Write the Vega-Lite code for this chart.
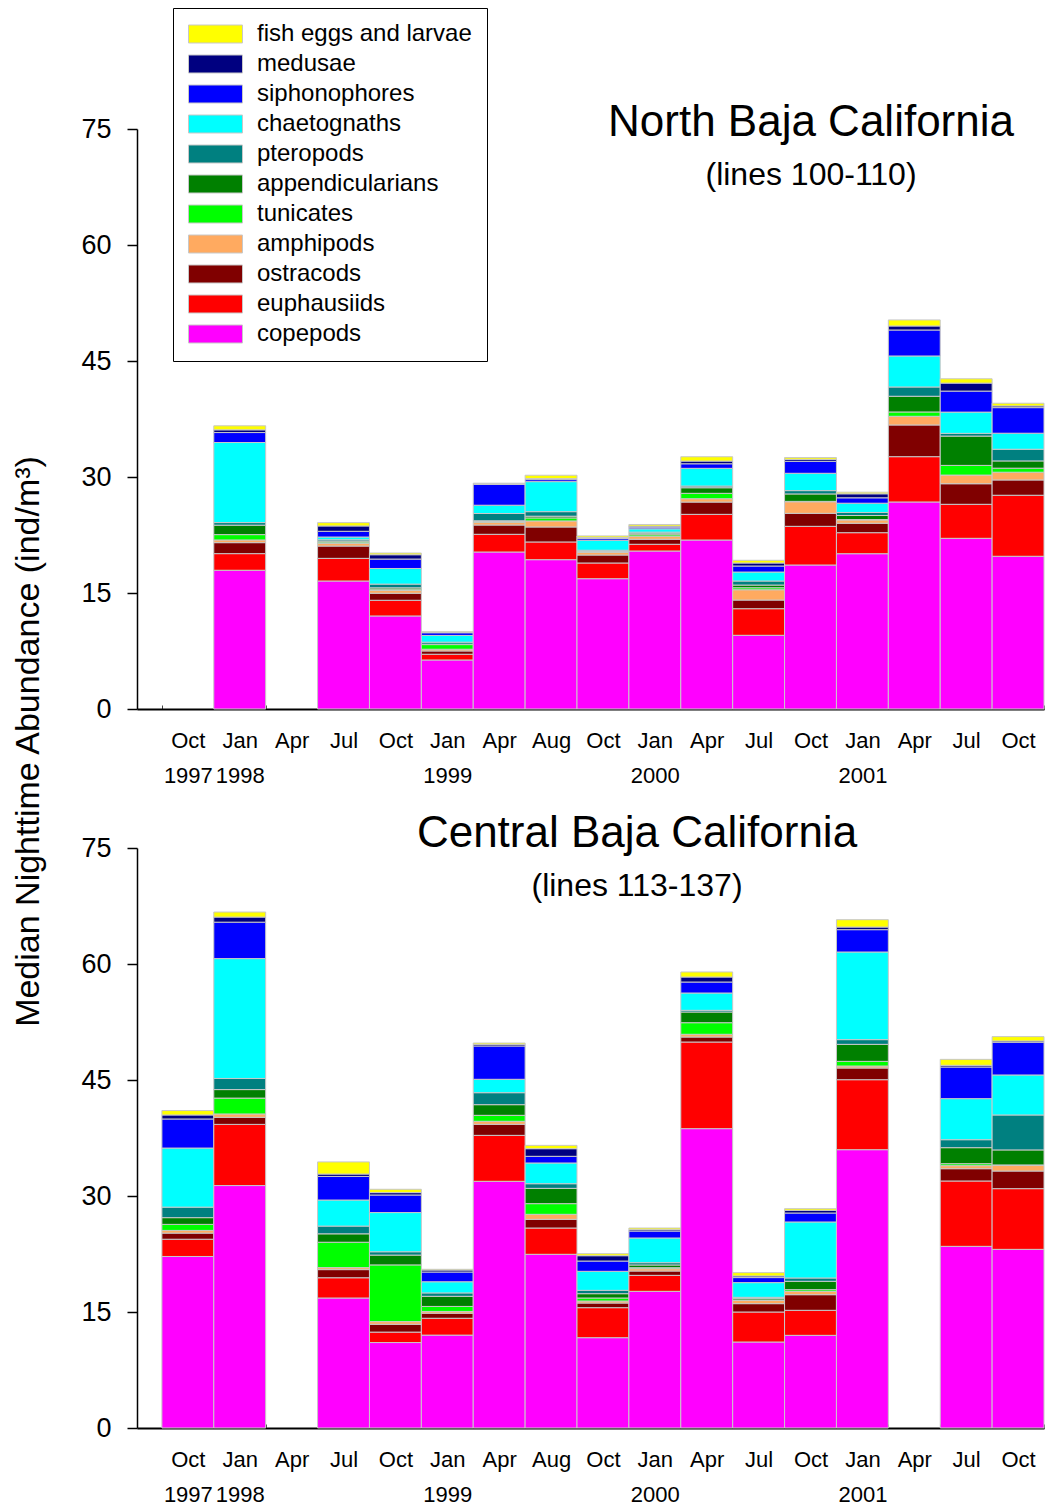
{
  "$schema": "https://vega.github.io/schema/vega-lite/v6.json",
  "background": "white",
  "padding": {"left": 11, "top": 7, "right": 1, "bottom": 0},
  "config": {
    "view": {"stroke": null},
    "font": "Liberation Sans",
    "axis": {"domainColor": "black", "tickColor": "black", "labelColor": "black", "titleColor": "black", "grid": false}
  },
  "datasets": {
    "taxa": [
      {"taxon": "copepods", "rank": 0},
      {"taxon": "euphausiids", "rank": 1},
      {"taxon": "ostracods", "rank": 2},
      {"taxon": "amphipods", "rank": 3},
      {"taxon": "tunicates", "rank": 4},
      {"taxon": "appendicularians", "rank": 5},
      {"taxon": "pteropods", "rank": 6},
      {"taxon": "chaetognaths", "rank": 7},
      {"taxon": "siphonophores", "rank": 8},
      {"taxon": "medusae", "rank": 9},
      {"taxon": "fish eggs and larvae", "rank": 10}
    ],
    "north": [
      {"date": "1998-01", "copepods": 17.94, "euphausiids": 2.15, "ostracods": 1.42, "amphipods": 0.35, "tunicates": 0.69, "appendicularians": 1.22, "pteropods": 0.34, "chaetognaths": 10.35, "siphonophores": 1.29, "medusae": 0.35, "fish eggs and larvae": 0.52},
      {"date": "1998-07", "copepods": 16.55, "euphausiids": 2.93, "ostracods": 1.59, "amphipods": 0.35, "tunicates": 0.17, "appendicularians": 0.13, "pteropods": 0.17, "chaetognaths": 0.35, "siphonophores": 0.74, "medusae": 0.69, "fish eggs and larvae": 0.43},
      {"date": "1998-10", "copepods": 12.03, "euphausiids": 2.03, "ostracods": 0.91, "amphipods": 0.35, "tunicates": 0.18, "appendicularians": 0.17, "pteropods": 0.48, "chaetognaths": 2.02, "siphonophores": 1.22, "medusae": 0.56, "fish eggs and larvae": 0.22},
      {"date": "1999-01", "copepods": 6.34, "euphausiids": 0.74, "ostracods": 0.43, "amphipods": 0.22, "tunicates": 0.6, "appendicularians": 0.05, "pteropods": 0.26, "chaetognaths": 0.87, "siphonophores": 0.35, "medusae": 0.06, "fish eggs and larvae": 0.06},
      {"date": "1999-04", "copepods": 20.3, "euphausiids": 2.29, "ostracods": 1.2, "amphipods": 0.35, "tunicates": 0.1, "appendicularians": 0.1, "pteropods": 0.94, "chaetognaths": 1.07, "siphonophores": 2.68, "medusae": 0.13, "fish eggs and larvae": 0.04},
      {"date": "1999-08", "copepods": 19.31, "euphausiids": 2.29, "ostracods": 1.94, "amphipods": 0.78, "tunicates": 0.39, "appendicularians": 0.22, "pteropods": 0.59, "chaetognaths": 3.88, "siphonophores": 0.26, "medusae": 0.13, "fish eggs and larvae": 0.44},
      {"date": "1999-10", "copepods": 16.85, "euphausiids": 2.03, "ostracods": 1.03, "amphipods": 0.35, "tunicates": 0.05, "appendicularians": 0.05, "pteropods": 0.17, "chaetognaths": 1.29, "siphonophores": 0.22, "medusae": 0.13, "fish eggs and larvae": 0.21},
      {"date": "2000-01", "copepods": 20.43, "euphausiids": 0.87, "ostracods": 0.65, "amphipods": 0.39, "tunicates": 0.2, "appendicularians": 0.2, "pteropods": 0.13, "chaetognaths": 0.43, "siphonophores": 0.22, "medusae": 0.13, "fish eggs and larvae": 0.21},
      {"date": "2000-04", "copepods": 21.85, "euphausiids": 3.32, "ostracods": 1.59, "amphipods": 0.43, "tunicates": 0.7, "appendicularians": 0.72, "pteropods": 0.22, "chaetognaths": 2.29, "siphonophores": 0.59, "medusae": 0.35, "fish eggs and larvae": 0.56},
      {"date": "2000-07", "copepods": 9.53, "euphausiids": 3.44, "ostracods": 1.12, "amphipods": 1.33, "tunicates": 0.26, "appendicularians": 0.35, "pteropods": 0.52, "chaetognaths": 1.16, "siphonophores": 0.78, "medusae": 0.39, "fish eggs and larvae": 0.35},
      {"date": "2000-10", "copepods": 18.62, "euphausiids": 5.0, "ostracods": 1.68, "amphipods": 1.5, "tunicates": 0.05, "appendicularians": 0.96, "pteropods": 0.43, "chaetognaths": 2.24, "siphonophores": 1.55, "medusae": 0.26, "fish eggs and larvae": 0.22},
      {"date": "2001-01", "copepods": 20.08, "euphausiids": 2.72, "ostracods": 1.22, "amphipods": 0.43, "tunicates": 0.05, "appendicularians": 0.52, "pteropods": 0.39, "chaetognaths": 1.2, "siphonophores": 0.7, "medusae": 0.52, "fish eggs and larvae": 0.21},
      {"date": "2001-04", "copepods": 26.77, "euphausiids": 5.86, "ostracods": 4.1, "amphipods": 1.12, "tunicates": 0.56, "appendicularians": 2.03, "pteropods": 1.2, "chaetognaths": 4.01, "siphonophores": 3.36, "medusae": 0.52, "fish eggs and larvae": 0.78},
      {"date": "2001-07", "copepods": 22.07, "euphausiids": 4.4, "ostracods": 2.66, "amphipods": 1.12, "tunicates": 1.25, "appendicularians": 3.79, "pteropods": 0.35, "chaetognaths": 2.75, "siphonophores": 2.72, "medusae": 1.03, "fish eggs and larvae": 0.56},
      {"date": "2001-10", "copepods": 19.75, "euphausiids": 7.89, "ostracods": 1.98, "amphipods": 1.0, "tunicates": 0.52, "appendicularians": 0.94, "pteropods": 1.51, "chaetognaths": 2.07, "siphonophores": 3.31, "medusae": 0.22, "fish eggs and larvae": 0.35}
    ],
    "central": [
      {"date": "1997-10", "copepods": 22.18, "euphausiids": 2.23, "ostracods": 0.79, "amphipods": 0.35, "tunicates": 0.78, "appendicularians": 0.87, "pteropods": 1.36, "chaetognaths": 7.64, "siphonophores": 3.76, "medusae": 0.52, "fish eggs and larvae": 0.57},
      {"date": "1998-01", "copepods": 31.35, "euphausiids": 7.91, "ostracods": 0.91, "amphipods": 0.44, "tunicates": 2.05, "appendicularians": 1.1, "pteropods": 1.44, "chaetognaths": 15.5, "siphonophores": 4.71, "medusae": 0.66, "fish eggs and larvae": 0.65},
      {"date": "1998-07", "copepods": 16.81, "euphausiids": 2.62, "ostracods": 1.05, "amphipods": 0.26, "tunicates": 3.28, "appendicularians": 1.09, "pteropods": 1.0, "chaetognaths": 3.37, "siphonophores": 3.05, "medusae": 0.31, "fish eggs and larvae": 1.57},
      {"date": "1998-10", "copepods": 11.05, "euphausiids": 1.35, "ostracods": 1.01, "amphipods": 0.35, "tunicates": 7.33, "appendicularians": 1.27, "pteropods": 0.43, "chaetognaths": 5.07, "siphonophores": 2.27, "medusae": 0.31, "fish eggs and larvae": 0.43},
      {"date": "1999-01", "copepods": 12.01, "euphausiids": 2.18, "ostracods": 0.66, "amphipods": 0.22, "tunicates": 0.65, "appendicularians": 1.31, "pteropods": 0.44, "chaetognaths": 1.44, "siphonophores": 1.26, "medusae": 0.26, "fish eggs and larvae": 0.09},
      {"date": "1999-04", "copepods": 31.9, "euphausiids": 5.94, "ostracods": 1.43, "amphipods": 0.39, "tunicates": 0.77, "appendicularians": 1.38, "pteropods": 1.55, "chaetognaths": 1.73, "siphonophores": 4.31, "medusae": 0.21, "fish eggs and larvae": 0.17},
      {"date": "1999-08", "copepods": 22.46, "euphausiids": 3.4, "ostracods": 1.12, "amphipods": 0.65, "tunicates": 1.38, "appendicularians": 1.98, "pteropods": 0.6, "chaetognaths": 2.68, "siphonophores": 0.86, "medusae": 0.99, "fish eggs and larvae": 0.43},
      {"date": "1999-10", "copepods": 11.68, "euphausiids": 3.88, "ostracods": 0.6, "amphipods": 0.26, "tunicates": 0.39, "appendicularians": 0.56, "pteropods": 0.43, "chaetognaths": 2.46, "siphonophores": 1.33, "medusae": 0.69, "fish eggs and larvae": 0.26},
      {"date": "2000-01", "copepods": 17.67, "euphausiids": 2.07, "ostracods": 0.56, "amphipods": 0.3, "tunicates": 0.13, "appendicularians": 0.35, "pteropods": 0.3, "chaetognaths": 3.19, "siphonophores": 0.9, "medusae": 0.18, "fish eggs and larvae": 0.21},
      {"date": "2000-04", "copepods": 38.71, "euphausiids": 11.2, "ostracods": 0.65, "amphipods": 0.35, "tunicates": 1.5, "appendicularians": 1.38, "pteropods": 0.22, "chaetognaths": 2.24, "siphonophores": 1.42, "medusae": 0.65, "fish eggs and larvae": 0.65},
      {"date": "2000-07", "copepods": 11.12, "euphausiids": 3.88, "ostracods": 1.08, "amphipods": 0.43, "tunicates": 0.05, "appendicularians": 0.21, "pteropods": 0.13, "chaetognaths": 1.9, "siphonophores": 0.65, "medusae": 0.21, "fish eggs and larvae": 0.43},
      {"date": "2000-10", "copepods": 11.98, "euphausiids": 3.24, "ostracods": 2.02, "amphipods": 0.43, "tunicates": 0.22, "appendicularians": 1.08, "pteropods": 0.43, "chaetognaths": 7.24, "siphonophores": 1.16, "medusae": 0.35, "fish eggs and larvae": 0.21},
      {"date": "2001-01", "copepods": 35.99, "euphausiids": 9.05, "ostracods": 1.51, "amphipods": 0.26, "tunicates": 0.6, "appendicularians": 2.2, "pteropods": 0.61, "chaetognaths": 11.33, "siphonophores": 2.89, "medusae": 0.34, "fish eggs and larvae": 0.95},
      {"date": "2001-07", "copepods": 23.49, "euphausiids": 8.45, "ostracods": 1.59, "amphipods": 0.39, "tunicates": 0.26, "appendicularians": 2.07, "pteropods": 1.03, "chaetognaths": 5.31, "siphonophores": 4.09, "medusae": 0.22, "fish eggs and larvae": 0.77},
      {"date": "2001-10", "copepods": 23.1, "euphausiids": 7.85, "ostracods": 2.28, "amphipods": 0.74, "tunicates": 0.05, "appendicularians": 1.94, "pteropods": 4.52, "chaetognaths": 5.17, "siphonophores": 4.23, "medusae": 0.17, "fish eggs and larvae": 0.56}
    ]
  },
  "spacing": 139,
  "bounds": "flush",
  "resolve": {"legend": {"color": "independent"}},
  "vconcat": [
    {
      "width": 907,
      "height": 580,
      "data": {"name": "north"},
      "transform": [
        {"fold": ["copepods", "euphausiids", "ostracods", "amphipods", "tunicates", "appendicularians", "pteropods", "chaetognaths", "siphonophores", "medusae", "fish eggs and larvae"], "as": ["taxon", "abundance"]},
        {"lookup": "taxon", "from": {"data": {"name": "taxa"}, "key": "taxon", "fields": ["rank"]}}
      ],
      "title": {
        "text": "North Baja California",
        "subtitle": "(lines 100-110)",
        "font": "Liberation Sans",
        "subtitleFont": "Liberation Sans",
        "fontSize": 44,
        "subtitleFontSize": 32,
        "fontWeight": "normal",
        "color": "black",
        "subtitleColor": "black",
        "anchor": "start",
        "align": "center",
        "frame": "group",
        "dx": 674,
        "dy": 183,
        "offset": 0,
        "subtitlePadding": 15
      },
      "mark": {"type": "bar", "stroke": "#c8c8c8", "strokeWidth": 1},
      "encoding": {
        "x": {
          "field": "date",
          "type": "ordinal",
          "scale": {"domain": ["1997-10", "1998-01", "1998-04", "1998-07", "1998-10", "1999-01", "1999-04", "1999-08", "1999-10", "2000-01", "2000-04", "2000-07", "2000-10", "2001-01", "2001-04", "2001-07", "2001-10"], "paddingInner": 0, "paddingOuter": 0.24, "align": 1},
          "axis": {
            "title": null,
            "labelExpr": "[['','Jan','','','Apr','','','Jul','Aug','','Oct'][toNumber(substring(datum.value,5,7))], (datum.value == '1997-10' || substring(datum.value,5,7) == '01') ? '\\u2002\\u2002' + substring(datum.value,0,4) : '']",
            "labelFont": "Liberation Sans",
            "labelFontSize": 22,
            "labelAngle": 0,
            "labelBaseline": "top",
            "labelLineHeight": 35,
            "labelPadding": 25,
            "labelOverlap": false,
            "tickBand": "extent",
            "tickSize": -4,
            "tickColor": "#444444",
            "domainWidth": 2
          }
        },
        "y": {
          "field": "abundance",
          "type": "quantitative",
          "stack": "zero",
          "scale": {"domain": [0, 75], "nice": false},
          "axis": {
            "values": [0, 15, 30, 45, 60, 75],
            "tickSize": 10,
            "tickWidth": 1.5,
            "domainWidth": 1.5,
            "labelFont": "Liberation Sans",
            "labelFontSize": 27,
            "labelPadding": 16,
            "title": "Median Nighttime Abundance  (ind/m³)",
            "titleFont": "Liberation Sans",
            "titleFontSize": 34,
            "titleFontWeight": "normal",
            "titleAngle": -90,
            "titleAlign": "center",
            "titleBaseline": "bottom",
            "titleX": -92,
            "titleY": 612
          }
        },
        "color": {
          "field": "taxon",
          "type": "nominal",
          "scale": {
            "domain": ["fish eggs and larvae", "medusae", "siphonophores", "chaetognaths", "pteropods", "appendicularians", "tunicates", "amphipods", "ostracods", "euphausiids", "copepods"],
            "range": ["#FFFF00", "#000080", "#0000FF", "#00FFFF", "#008080", "#008000", "#00FF00", "#FFAA60", "#800000", "#FF0000", "#FF00FF"]
          },
          "legend": {
            "title": null,
            "orient": "none",
            "legendX": 36,
            "legendY": -121,
            "padding": 15,
            "strokeColor": "black",
            "fillColor": "white",
            "symbolType": "M-1,-0.3333H1V0.3333H-1Z",
            "symbolSize": 2916,
            "symbolStrokeColor": "#c8c8c8",
            "symbolStrokeWidth": 1,
            "symbolOpacity": 1,
            "clipHeight": 22,
            "rowPadding": 6,
            "labelFont": "Liberation Sans",
            "labelFontSize": 24,
            "labelColor": "black",
            "labelOffset": 14,
            "labelLimit": 320
          }
        },
        "order": {"field": "rank", "type": "quantitative", "sort": "ascending"}
      }
    },
    {
      "width": 907,
      "height": 580,
      "data": {"name": "central"},
      "transform": [
        {"fold": ["copepods", "euphausiids", "ostracods", "amphipods", "tunicates", "appendicularians", "pteropods", "chaetognaths", "siphonophores", "medusae", "fish eggs and larvae"], "as": ["taxon", "abundance"]},
        {"lookup": "taxon", "from": {"data": {"name": "taxa"}, "key": "taxon", "fields": ["rank"]}}
      ],
      "title": {
        "text": "Central Baja California",
        "subtitle": "(lines 113-137)",
        "font": "Liberation Sans",
        "subtitleFont": "Liberation Sans",
        "fontSize": 44,
        "subtitleFontSize": 32,
        "fontWeight": "normal",
        "color": "black",
        "subtitleColor": "black",
        "anchor": "start",
        "align": "center",
        "frame": "group",
        "dx": 500,
        "dy": 68,
        "offset": 0,
        "subtitlePadding": 15
      },
      "mark": {"type": "bar", "stroke": "#c8c8c8", "strokeWidth": 1},
      "encoding": {
        "x": {
          "field": "date",
          "type": "ordinal",
          "scale": {"domain": ["1997-10", "1998-01", "1998-04", "1998-07", "1998-10", "1999-01", "1999-04", "1999-08", "1999-10", "2000-01", "2000-04", "2000-07", "2000-10", "2001-01", "2001-04", "2001-07", "2001-10"], "paddingInner": 0, "paddingOuter": 0.24, "align": 1},
          "axis": {
            "title": null,
            "labelExpr": "[['','Jan','','','Apr','','','Jul','Aug','','Oct'][toNumber(substring(datum.value,5,7))], (datum.value == '1997-10' || substring(datum.value,5,7) == '01') ? '\\u2002\\u2002' + substring(datum.value,0,4) : '']",
            "labelFont": "Liberation Sans",
            "labelFontSize": 22,
            "labelAngle": 0,
            "labelBaseline": "top",
            "labelLineHeight": 35,
            "labelPadding": 25,
            "labelOverlap": false,
            "tickBand": "extent",
            "tickSize": -4,
            "tickColor": "#444444",
            "domainWidth": 2
          }
        },
        "y": {
          "field": "abundance",
          "type": "quantitative",
          "stack": "zero",
          "scale": {"domain": [0, 75], "nice": false},
          "axis": {
            "values": [0, 15, 30, 45, 60, 75],
            "tickSize": 10,
            "tickWidth": 1.5,
            "domainWidth": 1.5,
            "labelFont": "Liberation Sans",
            "labelFontSize": 27,
            "labelPadding": 16,
            "title": null
          }
        },
        "color": {
          "field": "taxon",
          "type": "nominal",
          "scale": {
            "domain": ["fish eggs and larvae", "medusae", "siphonophores", "chaetognaths", "pteropods", "appendicularians", "tunicates", "amphipods", "ostracods", "euphausiids", "copepods"],
            "range": ["#FFFF00", "#000080", "#0000FF", "#00FFFF", "#008080", "#008000", "#00FF00", "#FFAA60", "#800000", "#FF0000", "#FF00FF"]
          },
          "legend": null
        },
        "order": {"field": "rank", "type": "quantitative", "sort": "ascending"}
      }
    }
  ]
}
